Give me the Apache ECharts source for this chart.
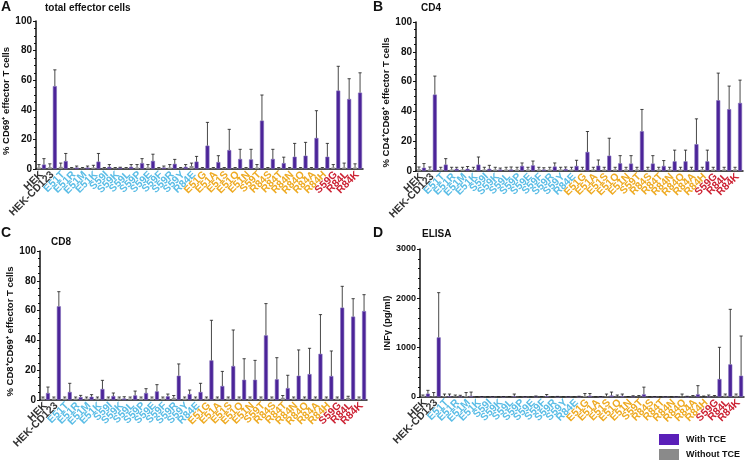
<!DOCTYPE html>
<html>
<head>
<meta charset="utf-8">
<title>TCE activation</title>
<script src="https://cdn.jsdelivr.net/npm/echarts@6/dist/echarts.min.js"></script>
<style>body{margin:0;background:#fff}</style>
</head>
<body>
<div id="main" style="width:745px;height:460px;"></div>
<script>
var categories = ['HEK','HEK-CD123','E51T','E51R','E51M','E51K','S59I','S59K','S59L','S59P','S59E','S59F','S59R','S59Y','R84E',
  'E51G','E51A','E51S','E51Q','E51N','S59T','R84S','R84T','R84N','R84Q','R84A','R84H','S59G','R84L','R84K'];
// label colour group: 0 black, 1 blue, 2 orange, 3 red
var labelGroup = [0,0,1,1,1,1,1,1,1,1,1,1,1,1,1,2,2,2,2,2,2,2,2,2,2,2,2,3,3,3];

// A: total effector cells
var withA    = [3,56,5.4,1,1,5,1.5,1,1.5,4,5.5,1,3.5,1.5,5, 15.8,4.7,12.8,6.8,6.5,32.7,6.8,4,8.3,9,21,8.3,53,47.3,51.6];
var withErrA = [7,67,10.5,2,2,10.5,3,1.2,3,7,10,2,6.5,3,8.5, 31.5,9,26.8,13.3,13.3,50,13.3,8,17.3,18,39.4,17.3,69.4,61,65];
var woA      = [1,1.2,1.5,0.5,0.5,1,0.5,0.5,0.5,1,1,0.5,1,0.5,2, 0.5,0.5,0.5,0.5,0.5,1,0.5,0.5,0.5,0.5,0.5,0.5,1,1,1];
var woErrA   = [3,3.5,4,1,1,2.5,1,1,1,3,3,1,3,1,4, 1,1,1,1,1,3,1,1,1,1,1,1,3,4,3.5];

// B: CD4
var withB    = [2.2,51.3,4.3,1.5,1.5,4.3,1.5,1,1,3.4,3.8,1,3,1.4,3.4, 12.8,3.6,10.3,5.2,5,26.7,5,3.4,6.5,6.5,18,6.5,47.5,41.5,45.7];
var withErrB = [5,63.7,8.3,2.5,3,9.4,3.8,2,2.7,5.4,6.7,2.2,5.4,2.7,7.2, 26.5,7.4,22,10.3,10.3,41.3,10.3,7,14,14,35,14,65.7,57,61];
var woB      = [1.2,1,1,1,1,1,1,1,1,1,1,1,1,1,1, 1,1,1,1,1,1,1,1,1,1,1,1,1,1,1];
var woErrB   = [2.7,2.7,2.5,2.5,2.5,2.5,2.5,2.5,2.5,2.5,2.5,2.5,2.5,2.5,2.5, 2.5,2.5,2.5,2.5,2.5,2.5,2.5,2.5,2.5,2.5,2.5,2.5,2.5,2.5,2.5];

// C: CD8
var withC    = [4.7,62.9,5.4,2,2.2,7.4,2.7,1,3.1,4.7,5.8,2.5,16.3,4,5.4, 26.6,9.4,22.8,13.6,13.6,43.4,13.9,8,16.3,17.4,31,16.1,62,56,59.7];
var withErrC = [8.7,72.7,11.2,3.1,3.6,13.2,4.7,2.2,6,7.6,10.3,4,24.2,6.7,11.2, 53.5,19.2,47,27.7,26.6,64.7,28.4,16.6,33.6,34.7,57.3,32.9,76.3,68,70.7];
var woC      = [1,1,1,1,1,1,1,1,1,1,1,1,1.5,1,1, 1,1,1,1,1,1,1,1.5,1,1,1,1,1,1.5,1];
var woErrC   = [2,2,2,2,2,2,2,2,2,2,2,2,3,2,2, 2,2,2,2,2,2,2,3,2,2,2,2,2,2.5,2];

// D: ELISA
var withD    = [68,1209,20,10,20,5,3,5,15,3,8,15,5,3,8, 25,5,30,20,10,54,5,3,3,5,54,10,365,662,432];
var withErrD = [135,2115,60,35,100,10,8,10,60,8,20,50,12,6,15, 70,10,100,60,25,200,10,6,6,15,230,40,1007,1777,1236];
var woD      = [20,15,20,15,20,3,3,3,5,3,3,5,3,3,3, 20,3,15,10,5,10,3,3,3,10,10,5,10,30,30];
var woErrD   = [40,90,60,40,90,6,6,6,10,6,6,10,6,6,6, 70,6,60,40,10,30,6,6,6,60,30,20,30,60,60];

var labelColors = ['#333333','#5bbde6','#eeaa22','#cc2233'];
var purple = '#4c2499', gray = '#8c8c8c';
var font = 'Liberation Sans, Arial';

var grids = [
  {left:36, top:21, width:327, height:148},
  {left:416, top:22, width:327, height:149},
  {left:40, top:251, width:327, height:149},
  {left:420, top:249, width:324, height:148}
];
var yNames = ['% CD69\u207A effector T cells','% CD4\u207ACD69\u207A effector T cells','% CD8\u207ACD69\u207A effector T cells','INF\u03B3 (pg/ml)'];
var yMax = [100,100,100,3000];
var yInt = [20,20,20,1000];
var withData = [withA,withB,withC,withD], withErr = [withErrA,withErrB,withErrC,withErrD];
var woData = [woA,woB,woC,woD], woErr = [woErrA,woErrB,woErrC,woErrD];

function errSeries(gi, means, errs, off) {
  return {
    type: 'custom', xAxisIndex: gi, yAxisIndex: gi, silent: true, z: 5,
    renderItem: function (params, api) {
      var i = api.value(0);
      var p0 = api.coord([i, api.value(1)]);
      var p1 = api.coord([i, api.value(2)]);
      var x = p0[0] + off;
      var st = {stroke: '#1a1a1a', lineWidth: 0.8};
      return {type: 'group', children: [
        {type: 'line', shape: {x1: x, y1: p0[1], x2: x, y2: p1[1]}, style: st},
        {type: 'line', shape: {x1: x - 1.6, y1: p1[1], x2: x + 1.6, y2: p1[1]}, style: st}
      ]};
    },
    data: means.map(function (m, i) { return [i, m, errs[i]]; })
  };
}

var xAxes = [], yAxes = [], series = [];
for (var g = 0; g < 4; g++) {
  xAxes.push({
    type: 'category', gridIndex: g, data: categories,
    axisLine: {lineStyle: {color: '#111', width: 1.5}},
    axisTick: {alignWithLabel: true, length: 3, lineStyle: {color: '#111'}},
    axisLabel: {
      rotate: 45, interval: 0, margin: 4, fontFamily: font, fontWeight: 'bold', fontSize: 10.5,
      color: function (v) { return labelColors[labelGroup[categories.indexOf(v)]]; }
    }
  });
  yAxes.push({
    type: 'value', gridIndex: g, min: 0, max: yMax[g], interval: yInt[g],
    name: yNames[g], nameLocation: 'middle', nameGap: g === 3 ? 28 : 23,
    nameTextStyle: {fontFamily: font, fontWeight: 'bold', fontSize: 9.5, color: '#111', padding: g === 3 ? 0 : [0, 0, 0, -12]},
    axisLine: {show: true, lineStyle: {color: '#111', width: 1.5}},
    axisTick: {show: true, length: 3, lineStyle: {color: '#111'}},
    minorTick: {show: true, splitNumber: g === 3 ? 5 : 4, length: 2, lineStyle: {color: '#111'}},
    axisLabel: {fontFamily: font, fontWeight: 'bold', fontSize: g === 3 ? 9 : 10, color: '#111', margin: 4,
      formatter: function (v) { return String(v); }},
    splitLine: {show: false}
  });
  series.push({
    name: 'Without TCE', type: 'bar', xAxisIndex: g, yAxisIndex: g, data: woData[g],
    barWidth: 4, barGap: '25%', itemStyle: {color: gray}
  });
  series.push({
    name: 'With TCE', type: 'bar', xAxisIndex: g, yAxisIndex: g, data: withData[g],
    barWidth: 4, barGap: '25%', itemStyle: {color: purple, borderColor: '#7f6cb8', borderWidth: 0.6}
  });
  series.push(errSeries(g, woData[g], woErr[g], -2.5));
  series.push(errSeries(g, withData[g], withErr[g], 2.5));
}

var titleStyle = {fontFamily: font, fontWeight: 'bold', fontSize: 10, color: '#111'};
var letterStyle = {fontFamily: font, fontWeight: 'bold', fontSize: 14, color: '#111'};

var myChart = echarts.init(document.getElementById('main'));
myChart.setOption({
  animation: false,
  backgroundColor: '#fff',
  title: [
    {text: 'A', left: 1, top: 0, padding: 0, textStyle: letterStyle},
    {text: 'total effector cells', left: 45, top: 3, padding: 0, textStyle: titleStyle},
    {text: 'B', left: 373, top: 0, padding: 0, textStyle: letterStyle},
    {text: 'CD4', left: 421, top: 3, padding: 0, textStyle: titleStyle},
    {text: 'C', left: 1, top: 226, padding: 0, textStyle: letterStyle},
    {text: 'CD8', left: 51, top: 237, padding: 0, textStyle: titleStyle},
    {text: 'D', left: 373, top: 226, padding: 0, textStyle: letterStyle},
    {text: 'ELISA', left: 422, top: 229, padding: 0, textStyle: titleStyle}
  ],
  legend: {
    orient: 'vertical', left: 659, top: 434, itemWidth: 20, itemHeight: 11, itemGap: 4, padding: 0,
    icon: 'rect',
    textStyle: {fontFamily: font, fontWeight: 'bold', fontSize: 9, color: '#111', padding: [0, 0, 0, 2]},
    data: [{name: 'With TCE', itemStyle: {color: '#5a1fb8', borderWidth: 0}}, {name: 'Without TCE', itemStyle: {color: '#8a8a8a'}}]
  },
  grid: grids,
  xAxis: xAxes,
  yAxis: yAxes,
  series: series
});
</script>
</body>
</html>
